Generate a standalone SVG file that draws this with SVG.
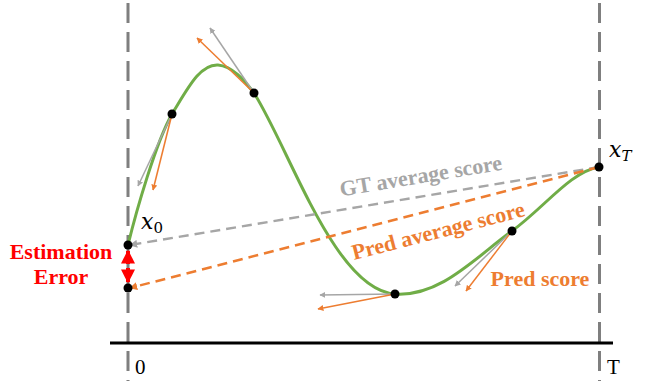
<svg xmlns="http://www.w3.org/2000/svg" width="645" height="381" viewBox="0 0 645 381">
<defs>
<style>
.vdash{stroke:#7f7f7f;stroke-width:3;stroke-dasharray:20 9;fill:none}
.gray{stroke:#a6a6a6;stroke-width:1.5;fill:none}
.orange{stroke:#ed7d31;stroke-width:1.5;fill:none}
.lbl{font-family:"Liberation Serif",serif;font-weight:bold;font-size:22px}
.math{font-family:"DejaVu Serif",serif;font-style:italic;font-size:22px;fill:#000}
.dot{fill:#000}
</style>
<marker id="ag" viewBox="0 0 10 10" refX="9" refY="5" markerWidth="6" markerHeight="6" orient="auto" markerUnits="userSpaceOnUse"><path d="M0,0L10,5L0,10z" fill="#a6a6a6"/></marker>
<marker id="ao" viewBox="0 0 10 10" refX="9" refY="5" markerWidth="6" markerHeight="6" orient="auto" markerUnits="userSpaceOnUse"><path d="M0,0L10,5L0,10z" fill="#ed7d31"/></marker>
<marker id="agd" viewBox="0 0 10 10" refX="9" refY="5" markerWidth="8" markerHeight="8" orient="auto" markerUnits="userSpaceOnUse"><path d="M0,0L10,5L0,10z" fill="#a6a6a6"/></marker>
<marker id="aod" viewBox="0 0 10 10" refX="9" refY="5" markerWidth="8" markerHeight="8" orient="auto" markerUnits="userSpaceOnUse"><path d="M0,0L10,5L0,10z" fill="#ed7d31"/></marker>
<marker id="ar" viewBox="0 0 10 10" refX="9" refY="5" markerWidth="14" markerHeight="16" orient="auto" markerUnits="userSpaceOnUse"><path d="M0,0L10,5L0,10z" fill="#ff0000"/></marker>
</defs>
<rect width="645" height="381" fill="#fff"/>
<g id="axes">
<line class="vdash" x1="128" y1="3" x2="128" y2="381"/>
<line class="vdash" x1="599.5" y1="3" x2="599.5" y2="381"/>
<line x1="110" y1="343" x2="613" y2="343" stroke="#000" stroke-width="3"/>
<text x="135" y="374" font-family="Liberation Serif,serif" font-size="21">0</text>
<text x="607" y="374" font-family="Liberation Serif,serif" font-size="21">T</text>
</g>
<g id="curve">
<path d="M128,245 C136,212 156,142 172,114 C188,88 200,64 218,65 C232,66 244,80 254,93 C290,150 335,290 395,294 C440,297 475,258 512,231 C545,207 570,172 599,167" stroke="#70ad47" stroke-width="3" fill="none"/>
</g>
<g id="connectors">
<line class="gray" x1="172" y1="114" x2="138" y2="186" marker-end="url(#ag)"/>
<line class="orange" x1="172" y1="114" x2="153" y2="190" marker-end="url(#ao)"/>
<line class="gray" x1="254" y1="93" x2="210" y2="28" marker-end="url(#ag)"/>
<line class="orange" x1="254" y1="93" x2="197" y2="38" marker-end="url(#ao)"/>
<line class="gray" x1="395" y1="294" x2="320" y2="295" marker-end="url(#ag)"/>
<line class="orange" x1="395" y1="294" x2="318" y2="309" marker-end="url(#ao)"/>
<line class="gray" x1="512" y1="231" x2="455" y2="286" marker-end="url(#ag)"/>
<line class="orange" x1="512" y1="231" x2="466" y2="291" marker-end="url(#ao)"/>
<line x1="599" y1="167" x2="130" y2="245" stroke="#a6a6a6" stroke-width="2.5" stroke-dasharray="10 6" marker-end="url(#agd)"/>
<line x1="599" y1="167" x2="130" y2="288" stroke="#ed7d31" stroke-width="2.5" stroke-dasharray="10 6" marker-end="url(#aod)"/>
<line x1="128" y1="264" x2="128" y2="251" stroke="#ff0000" stroke-width="4" marker-end="url(#ar)"/>
<line x1="128" y1="268" x2="128" y2="282" stroke="#ff0000" stroke-width="4" marker-end="url(#ar)"/>
</g>
<g id="points">
<circle class="dot" cx="128" cy="245" r="4.5"/>
<circle class="dot" cx="128" cy="288" r="4.5"/>
<circle class="dot" cx="172" cy="114" r="4.5"/>
<circle class="dot" cx="254" cy="93" r="4.5"/>
<circle class="dot" cx="395" cy="294" r="4.5"/>
<circle class="dot" cx="512" cy="231" r="4.5"/>
<circle class="dot" cx="599" cy="167" r="4.5"/>
</g>
<g id="labels">
<text class="math" x="141" y="229">x<tspan font-size="15" dy="4" font-style="normal">0</tspan></text>
<text class="math" x="609" y="157">x<tspan font-size="15" dy="4">T</tspan></text>
<text class="lbl" fill="#ff0000" x="61" y="259" text-anchor="middle">Estimation</text>
<text class="lbl" fill="#ff0000" x="61" y="284" text-anchor="middle">Error</text>
<text class="lbl" fill="#a6a6a6" x="422" y="183" text-anchor="middle" transform="rotate(-9.4 422 183)">GT average score</text>
<text class="lbl" fill="#ed7d31" x="440" y="238" text-anchor="middle" transform="rotate(-14.4 440 238)">Pred average score</text>
<text class="lbl" fill="#ed7d31" x="540" y="286" text-anchor="middle">Pred score</text>
</g>
</svg>
